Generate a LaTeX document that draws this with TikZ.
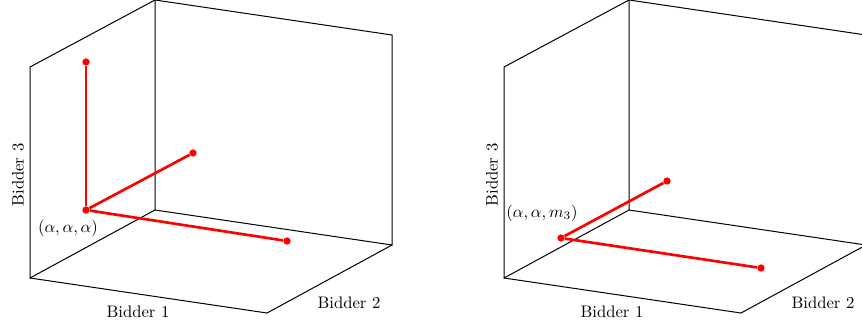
\documentclass[tikz,border=0pt]{standalone}
\begin{document}
\begin{tikzpicture}[x=0.6pt,y=-0.6pt,
  edge/.style={black, line width=0.6pt},
  seg/.style={red, line width=1.6pt},
  dot/.style={circle, fill=red, inner sep=0pt, minimum size=4.4pt},
  lab/.style={inner sep=0pt}]
\useasboundingbox (0,0) rectangle (862,328);
\clip (0,0) rectangle (862,328);
% ---------- left cube ----------
\coordinate (A0) at (30,278);
\coordinate (Ax) at (267,313);
\coordinate (Ay) at (155,210);
\coordinate (Az) at (30,67);
\coordinate (Ayz) at (155,0);
\coordinate (Axy) at (392,245);
\coordinate (Axyz) at (392,35);
\draw[edge] (A0) -- (Az) -- (Ayz) -- (Ay) -- cycle;
\draw[edge] (Ay) -- (Axy) -- (Axyz) -- (Ayz);
\draw[edge] (A0) -- (Ax) -- (Axy);
\node[lab] (a1) at (138,312) {Bidder 1};
\node[lab] (a2) at (349,303) {Bidder 2};
\node[lab, rotate=90] (a3) at (18,175) {Bidder 3};
\node[dot] (ac) at (86,210) {};
\node[dot] (az) at (86,62) {};
\node[dot] (ay) at (193,153) {};
\node[dot] (ax) at (287,241) {};
\draw[seg] (ac) -- (az);
\draw[seg] (ac) -- (ay);
\draw[seg] (ac) -- (ax);
\node[lab] (al) at (68,228) {$(\alpha,\alpha,\alpha)$};
% ---------- right cube ----------
\coordinate (B0) at (504,278);
\coordinate (Bx) at (741,313);
\coordinate (By) at (629,210);
\coordinate (Bz) at (504,67);
\coordinate (Byz) at (629,0);
\coordinate (Bxy) at (866,245);
\coordinate (Bxyz) at (866,35);
\draw[edge] (B0) -- (Bz) -- (Byz) -- (By) -- cycle;
\draw[edge] (By) -- (Bxy) -- (Bxyz) -- (Byz);
\draw[edge] (B0) -- (Bx) -- (Bxy);
\node[lab] (b1) at (612,312) {Bidder 1};
\node[lab] (b2) at (823,303) {Bidder 2};
\node[lab, rotate=90] (b3) at (492,175) {Bidder 3};
\node[dot] (bc) at (561,238) {};
\node[dot] (by) at (667,181) {};
\node[dot] (bx) at (761,268) {};
\draw[seg] (bc) -- (by);
\draw[seg] (bc) -- (bx);
\node[lab] (bl) at (542,213) {$(\alpha,\alpha,m_3)$};
\end{tikzpicture}
\end{document}
